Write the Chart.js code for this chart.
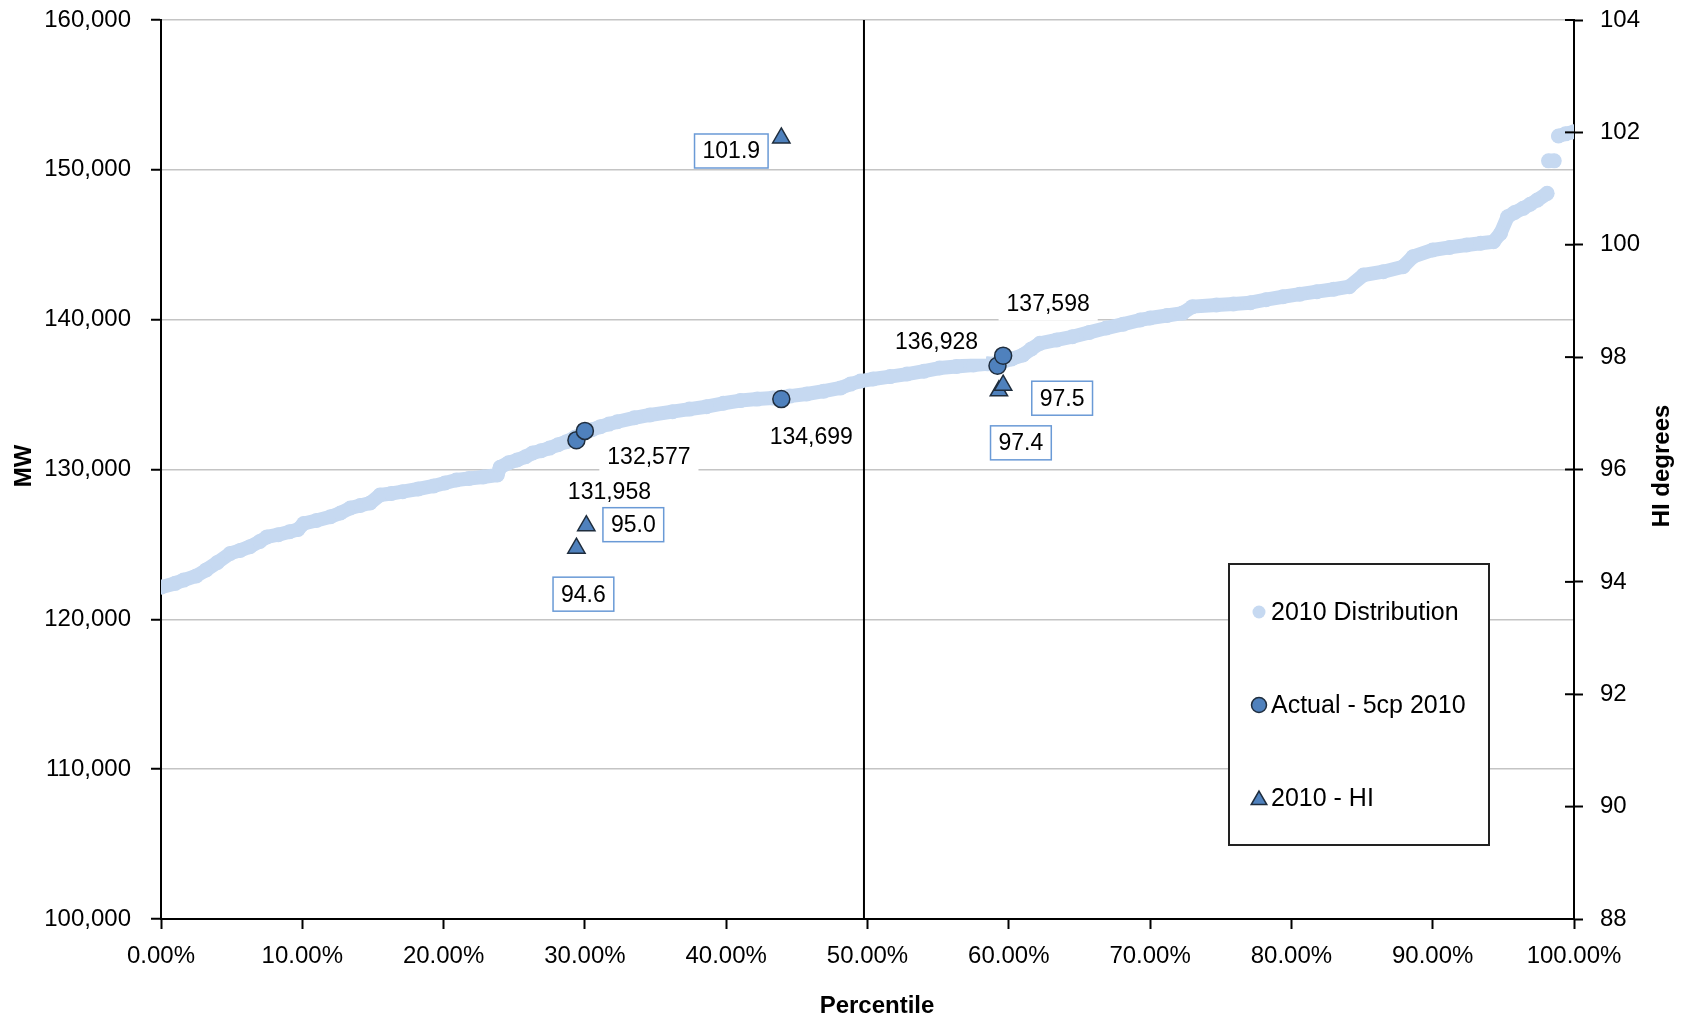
<!DOCTYPE html>
<html><head><meta charset="utf-8">
<script src="https://cdn.jsdelivr.net/npm/chart.js@4.4.1/dist/chart.umd.min.js"></script>
<style>html,body{margin:0;padding:0;background:#fff;} canvas{display:block;}</style>
</head><body>
<canvas id="c" width="1688" height="1019"></canvas>
<script>
// ---------------- data ----------------
const distPct = [0.000,0.010,0.016,0.025,0.032,0.040,0.049,0.056,0.063,0.070,
  0.075,0.083,0.091,0.097,0.101,0.110,0.120,0.127,0.134,0.141,
  0.148,0.155,0.163,0.171,0.182,0.193,0.201,0.209,0.218,0.228,
  0.238,0.240,0.246,0.252,0.258,0.263,0.269,0.275,0.281,0.287,
  0.293,0.299,0.305,0.311,0.317,0.323,0.335,0.346,0.362,0.374,
  0.386,0.398,0.410,0.422,0.433,0.445,0.457,0.469,0.481,0.488,
  0.495,0.504,0.516,0.528,0.540,0.551,0.563,0.575,0.585,0.594,
  0.602,0.610,0.616,0.622,0.634,0.645,0.657,0.669,0.681,0.693,
  0.700,0.712,0.723,0.730,0.747,0.759,0.771,0.782,0.794,0.806,
  0.818,0.830,0.841,0.851,0.865,0.879,0.886,0.900,0.912,0.924,
  0.934,0.943,0.948,0.953,0.958,0.964,0.969,0.974,0.981,0.9815,
  0.982,0.986,0.987,0.989,0.994,1.000];
const distMW = [122150,122400,122620,122900,123300,123800,124400,124600,124850,125200,
  125500,125650,125850,126000,126400,126600,126850,127100,127430,127600,
  127760,128300,128400,128520,128700,128900,129100,129300,129400,129500,
  129630,130150,130450,130630,130850,131100,131250,131430,131650,131860,
  132150,132430,132650,132860,133030,133190,133450,133640,133860,134030,
  134190,134420,134600,134700,134770,134900,135040,135230,135440,135700,
  135900,136040,136200,136370,136560,136770,136880,136970,137050,137130,
  137380,137640,138050,138420,138650,138860,139150,139440,139700,139980,
  140110,140280,140440,140870,140980,141050,141130,141330,141530,141700,
  141870,142030,142200,142980,143200,143530,144200,144650,144820,144980,
  145100,145200,145760,146870,147150,147430,147700,147980,148430,null,
  150600,150600,null,152260,152400,152540];
const actualPct = [0.294, 0.300, 0.439, 0.592, 0.596];
const actualMW = [131958, 132577, 134699, 136928, 137598];
const hiPct = [0.294, 0.301, 0.439, 0.593, 0.596];
const hiDeg = [94.6, 95.0, 101.9, 97.4, 97.5];
const medianPct = [0.4975, 0.4975];
const medianMW = [100000, 160000];
const seriesNames = ['2010 Distribution', 'Actual - 5cp 2010', '2010 - HI'];
const titleX = 'Percentile', titleY = 'MW', titleY2 = 'HI degrees';
const mwRange = [100000, 160000, 10000];
const hiRange = [88, 104, 2];
const pctRange = [0, 1, 0.1];

// ---------------- label placement (pixel offsets from marker) ----------------
const actualLabelOffsets = [[33,51],[64,26],[30,38],[-61,-24],[45,-52]];
const hiLabelOffsets = [[7,46],[47,-1],[-50,13],[22,52],[59,13]];

const FONT = "'Liberation Sans', Arial, sans-serif";
const FS_TICK = 24, FS_LABEL = 23, FS_LEGEND = 25, FS_TITLE = 24;
const C_DIST = '#c6d9f1', C_MARK = '#4f81bd', C_EDGE = '#1f2d3d', C_BOX = '#6a9ad6';

function drawMarker(ctx, style, x, y, r, fill, stroke, bw) {
  ctx.save();
  ctx.beginPath();
  if (style === 'triangle') {
    ctx.moveTo(x, y - r);
    ctx.lineTo(x + 0.866 * r, y + 0.5 * r);
    ctx.lineTo(x - 0.866 * r, y + 0.5 * r);
    ctx.closePath();
  } else {
    ctx.arc(x, y, r, 0, Math.PI * 2);
  }
  ctx.fillStyle = fill; ctx.fill();
  if (bw) { ctx.lineWidth = bw; ctx.strokeStyle = stroke; ctx.stroke(); }
  ctx.restore();
}

function drawBoxLabel(ctx, text, cx, cy, border) {
  ctx.save();
  ctx.font = FS_LABEL + 'px ' + FONT;
  const w = ctx.measureText(text).width + 16, h = 34;
  ctx.fillStyle = '#fff';
  ctx.fillRect(cx - w / 2, cy - h / 2, w, h);
  if (border) { ctx.strokeStyle = border; ctx.lineWidth = 1.5; ctx.strokeRect(cx - w / 2, cy - h / 2, w, h); }
  ctx.fillStyle = '#000'; ctx.textAlign = 'center'; ctx.textBaseline = 'middle';
  ctx.fillText(text, cx, cy + 1);
  ctx.restore();
}

const overlay = {
  id: 'overlay',
  afterDatasetsDraw(chart) {
    const ctx = chart.ctx, xs = chart.scales.x, yl = chart.scales.y, yr = chart.scales.y2;
    actualPct.forEach((p, i) => {
      const px = xs.getPixelForValue(p), py = yl.getPixelForValue(actualMW[i]);
      drawBoxLabel(ctx, actualMW[i].toLocaleString('en-US'), px + actualLabelOffsets[i][0], py + actualLabelOffsets[i][1], null);
    });
    hiPct.forEach((p, i) => {
      const px = xs.getPixelForValue(p), py = yr.getPixelForValue(hiDeg[i]);
      drawBoxLabel(ctx, hiDeg[i].toFixed(1), px + hiLabelOffsets[i][0], py + hiLabelOffsets[i][1], C_BOX);
    });
  },
  afterDraw(chart) {
    const ctx = chart.ctx, a = chart.chartArea, yr = chart.scales.y2;
    // inner half of the crossing ticks on the right axis
    ctx.save();
    ctx.strokeStyle = '#000'; ctx.lineWidth = 2;
    yr.ticks.forEach(t => {
      const y = yr.getPixelForValue(t.value);
      ctx.beginPath(); ctx.moveTo(a.right - 9, y); ctx.lineTo(a.right, y); ctx.stroke();
    });
    ctx.restore();
    // legend
    const lx = 1229, ly = 564, lw = 260, lh = 281;
    ctx.save();
    ctx.fillStyle = '#fff'; ctx.fillRect(lx, ly, lw, lh);
    ctx.strokeStyle = '#222'; ctx.lineWidth = 2; ctx.strokeRect(lx, ly, lw, lh);
    const items = [
      {ds: chart.data.datasets[2], y: 612},
      {ds: chart.data.datasets[1], y: 705},
      {ds: chart.data.datasets[0], y: 798}
    ];
    const legendR = {circle: 7.5, triangle: 9};
    items.forEach(it => {
      const ds = it.ds;
      if (ds.showLine) {
        drawMarker(ctx, 'circle', 1259, it.y, 6.5, ds.pointBackgroundColor, null, 0);
      } else {
        drawMarker(ctx, ds.pointStyle, 1259, it.y + (ds.pointStyle === 'triangle' ? 2 : 0), legendR[ds.pointStyle], ds.backgroundColor, ds.borderColor, 1.5);
      }
      ctx.fillStyle = '#000'; ctx.font = FS_LEGEND + 'px ' + FONT; ctx.textAlign = 'left'; ctx.textBaseline = 'middle';
      ctx.fillText(ds.label, 1271, it.y + 1);
    });
    ctx.restore();
    // axis titles
    ctx.save();
    ctx.fillStyle = '#000'; ctx.font = 'bold ' + FS_TITLE + 'px ' + FONT; ctx.textAlign = 'center'; ctx.textBaseline = 'middle';
    ctx.fillText(titleX, 877, 1006);
    ctx.save(); ctx.translate(24, 466); ctx.rotate(-Math.PI / 2); ctx.fillText(titleY, 0, 0); ctx.restore();
    ctx.save(); ctx.translate(1662, 466); ctx.rotate(-Math.PI / 2); ctx.fillText(titleY2, 0, 0); ctx.restore();
    ctx.restore();
  }
};

const tickFont = {family: FONT, size: FS_TICK};
function fitVertical(w) {
  return s => { s.width = w; s.paddingTop = 0; s.paddingBottom = 0; };
}

new Chart(document.getElementById('c'), {
  type: 'scatter',
  data: {
    datasets: [
      {
        label: seriesNames[2], yAxisID: 'y2',
        data: hiPct.map((x, i) => ({x, y: hiDeg[i]})),
        pointStyle: 'triangle', pointRadius: 10, backgroundColor: C_MARK, borderColor: C_EDGE, borderWidth: 1.5,
        showLine: false, order: 0
      },
      {
        label: seriesNames[1], yAxisID: 'y',
        data: actualPct.map((x, i) => ({x, y: actualMW[i]})),
        pointStyle: 'circle', pointRadius: 8.5, backgroundColor: C_MARK, borderColor: C_EDGE, borderWidth: 1.5,
        showLine: false, order: 1
      },
      {
        label: seriesNames[0], yAxisID: 'y',
        data: distPct.map((x, i) => ({x, y: distMW[i]})),
        showLine: true, spanGaps: false, borderColor: C_DIST, borderWidth: 14,
        borderCapStyle: 'round', borderJoinStyle: 'round',
        pointRadius: 7.5, pointBackgroundColor: C_DIST, pointBorderWidth: 0, backgroundColor: C_DIST,
        order: 2
      },
      {
        label: 'median', yAxisID: 'y',
        data: medianPct.map((x, i) => ({x, y: medianMW[i]})),
        showLine: true, borderColor: '#000', borderWidth: 2, pointRadius: 0, order: 3
      }
    ]
  },
  options: {
    responsive: false, devicePixelRatio: 1, animation: false, events: [],
    layout: {padding: {top: 20, left: 0, right: 0, bottom: 0}},
    plugins: {legend: {display: false}, tooltip: {enabled: false}},
    scales: {
      x: {
        type: 'linear', position: 'bottom', min: pctRange[0], max: pctRange[1],
        afterFit: s => { s.height = 100; s.paddingLeft = 0; s.paddingRight = 0; },
        ticks: {stepSize: pctRange[2], font: tickFont, color: '#000', padding: 13,
          callback: v => (v * 100).toFixed(2) + '%'},
        grid: {drawOnChartArea: false, drawTicks: true, tickLength: 10, tickColor: '#000', tickWidth: 2},
        border: {display: true, color: '#000', width: 2}
      },
      y: {
        type: 'linear', position: 'left', min: mwRange[0], max: mwRange[1],
        afterFit: fitVertical(161),
        ticks: {stepSize: mwRange[2], font: tickFont, color: '#000', padding: 20,
          callback: v => v.toLocaleString('en-US')},
        grid: {color: '#c4c4c4', lineWidth: 1.5, tickLength: 10, tickColor: '#000', tickWidth: 2},
        border: {display: true, color: '#000', width: 2}
      },
      y2: {
        type: 'linear', position: 'right', min: hiRange[0], max: hiRange[1],
        afterFit: fitVertical(114),
        ticks: {stepSize: hiRange[2], font: tickFont, color: '#000', padding: 17},
        grid: {drawOnChartArea: false, tickLength: 9, tickColor: '#000', tickWidth: 2},
        border: {display: true, color: '#000', width: 2}
      }
    }
  },
  plugins: [overlay]
});
</script>
</body></html>
